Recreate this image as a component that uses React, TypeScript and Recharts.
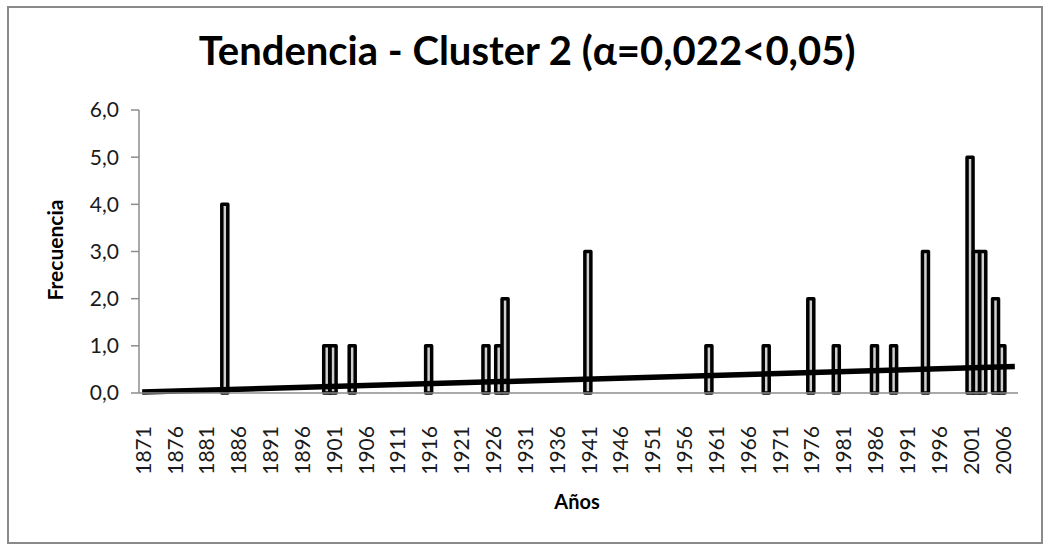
import React from 'react';
import { ComposedChart, Bar, Line, XAxis, YAxis } from 'recharts';

const firstYear = 1871;
const lastYear = 2008;
const eventYears = [1884, 1900, 1901, 1904, 1916, 1925, 1927, 1928, 1941, 1960, 1969, 1976, 1980, 1986, 1989, 1994, 2001, 2002, 2003, 2005, 2006];
const eventCounts = [4, 1, 1, 1, 1, 1, 1, 2, 3, 1, 1, 2, 1, 1, 1, 3, 5, 3, 3, 2, 1];
const trendStart = 0.02;
const trendEnd = 0.56;
const yTicks = [0, 1, 2, 3, 4, 5, 6];

const years: number[] = [];
for (let y = firstYear; y <= lastYear; y++) years.push(y);

const data = years.map((year) => {
  const idx = eventYears.indexOf(year);
  return {
    year: String(year),
    freq: idx >= 0 ? eventCounts[idx] : null,
    trend: year === firstYear ? trendStart : year === lastYear ? trendEnd : null,
  };
});

const FONT = 'Lato, "Open Sans", sans-serif';

const XTick = (props: any) => {
  const { x, y, payload } = props;
  const ty = y + 25;
  return (
    <text
      x={x}
      y={ty}
      transform={`rotate(-90 ${x} ${ty})`}
      textAnchor="end"
      dominantBaseline="central"
      fontFamily={FONT}
      fontSize={21}
      fill="#1a1a1a"
    >
      {payload.value}
    </text>
  );
};

export default function App() {
  return (
    <div style={{ position: 'absolute', left: 0, top: 0, width: 1050, height: 546, background: '#fff' }}>
      <div
        style={{
          position: 'absolute',
          left: 7,
          top: 6,
          width: 1036,
          height: 538,
          border: '2px solid #8a8a8a',
          boxSizing: 'border-box',
        }}
      />
      <div style={{ position: 'absolute', left: 0, top: 0 }}>
        <ComposedChart
          width={1050}
          height={546}
          data={data}
          margin={{ top: 110, right: 32, left: 0, bottom: 0 }}
          barCategoryGap={0}
          barGap={0}
        >
          <XAxis
            dataKey="year"
            interval={4}
            height={153}
            tickLine={false}
            axisLine={{ stroke: '#8c8c8c', strokeWidth: 1.5 }}
            tick={<XTick />}
          />
          <YAxis
            width={139}
            domain={[0, 6]}
            ticks={yTicks}
            interval={0}
            tickSize={8}
            tickMargin={12}
            tickLine={{ stroke: '#8c8c8c', strokeWidth: 1.5 }}
            axisLine={{ stroke: '#8c8c8c', strokeWidth: 1.5 }}
            tickFormatter={(v: number) => v.toFixed(1).replace('.', ',')}
            tick={{ fontFamily: FONT, fontSize: 21, fill: '#1a1a1a' }}
          />
          <Bar
            dataKey="freq"
            fill="#cfcfcf"
            stroke="#000"
            strokeWidth={3.5}
            strokeLinejoin="round"
            isAnimationActive={false}
          />
          <Line
            dataKey="trend"
            stroke="#000"
            strokeWidth={5.5}
            dot={false}
            activeDot={false}
            connectNulls
            isAnimationActive={false}
          />
        </ComposedChart>
      </div>
      <svg width={1050} height={546} style={{ position: 'absolute', left: 0, top: 0, pointerEvents: 'none' }}>
        <text x={527} y={65} textAnchor="middle" fontFamily={FONT} fontWeight="bold" fontSize={40} fill="#000">
          Tendencia - Cluster 2 (α=0,022&lt;0,05)
        </text>
        <text
          x={54}
          y={250}
          transform="rotate(-90 54 250)"
          textAnchor="middle"
          dominantBaseline="central"
          fontFamily={FONT}
          fontWeight="bold"
          fontSize={21}
          fill="#000"
        >
          Frecuencia
        </text>
        <text x={577} y={509} textAnchor="middle" fontFamily={FONT} fontWeight="bold" fontSize={20} fill="#000">
          Años
        </text>
      </svg>
    </div>
  );
}
